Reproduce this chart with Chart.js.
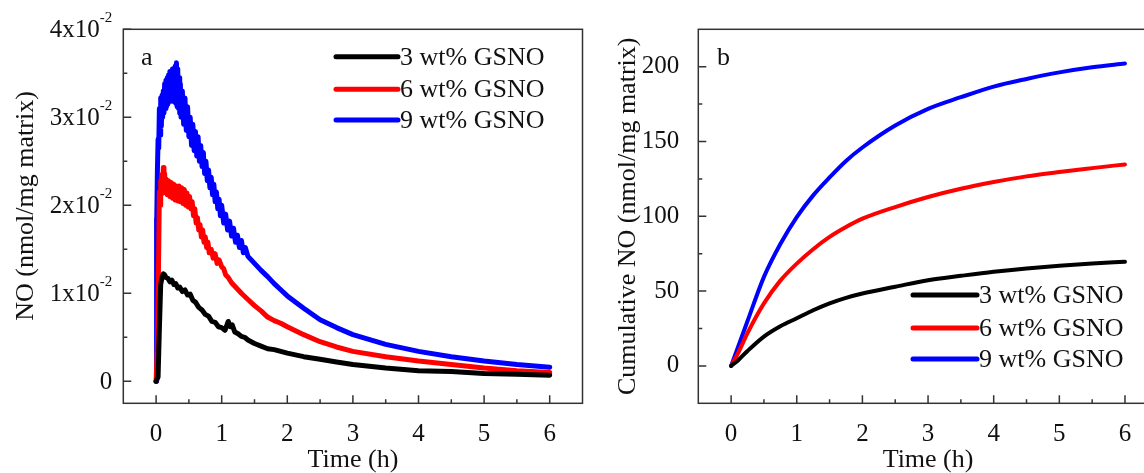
<!DOCTYPE html>
<html><head><meta charset="utf-8">
<script src="https://cdn.jsdelivr.net/npm/chart.js@4.4.0/dist/chart.umd.min.js"></script>
<style>
html,body{margin:0;padding:0;background:#fff;overflow:hidden;width:1144px;height:473px;}
#ca{position:absolute;left:0;top:0;}
#cb{position:absolute;left:590px;top:0;}
</style></head><body>
<canvas id="ca" width="590" height="473"></canvas>
<canvas id="cb" width="600" height="473"></canvas>
<script>
const seriesLabels = ['3 wt% GSNO', '6 wt% GSNO', '9 wt% GSNO'];
const seriesColors = ['#000000', '#ff0000', '#0000ff'];
const xTitle = 'Time (h)';
const yTitleA = 'NO (nmol/mg matrix)';
const yTitleB = 'Cumulative NO (nmol/mg matrix)';
const xTicks = [0, 1, 2, 3, 4, 5, 6];
const xMinorTicks = [0.5, 1.5, 2.5, 3.5, 4.5, 5.5];
const yTicksA = [0, 0.01, 0.02, 0.03, 0.04];
const yTickLabelsA = ['0', '1x10', '2x10', '3x10', '4x10'];
const yTickSupA = ['', '-2', '-2', '-2', '-2'];
const yMinorA = [0.005, 0.015, 0.025, 0.035];
const yTicksB = [0, 50, 100, 150, 200];
const yMinorB = [25, 75, 125, 175];

// Panel a: NO release rate
const tBlackA = [0,0.03,0.05,0.07,0.09,0.11,0.13,0.15,0.18,0.21,0.24,0.27,0.30,0.33,0.36,0.40,0.44,0.48,0.52,0.56,0.60,0.65,0.70,0.75,0.80,0.85,0.90,0.95,1.00,1.05,1.10,1.13,1.16,1.20,1.25,1.30,1.35,1.40,1.50,1.60,1.70,1.80,2.00,2.25,2.50,2.75,3.00,3.50,4.00,4.50,5.00,5.50,6.00];
const vBlackA = [0,0.0005,0.0060,0.0110,0.0118,0.0122,0.0121,0.0118,0.0117,0.0113,0.0115,0.0110,0.0111,0.0106,0.0107,0.0102,0.0104,0.0098,0.0099,0.0092,0.0090,0.0084,0.0081,0.0076,0.0074,0.0068,0.0067,0.0062,0.0061,0.0058,0.0068,0.0062,0.0064,0.0056,0.0054,0.0051,0.0050,0.0047,0.0043,0.0040,0.0037,0.0036,0.0032,0.0028,0.0025,0.0022,0.0019,0.0015,0.0012,0.0011,0.0009,0.0008,0.0007];
const tRedA = [0,0.02,0.04,0.05,0.06,0.07,0.08,0.09,0.10,0.11,0.12,0.13,0.14,0.15,0.17,0.19,0.21,0.23,0.25,0.27,0.29,0.31,0.33,0.35,0.37,0.39,0.41,0.43,0.45,0.47,0.49,0.51,0.53,0.55,0.57,0.59,0.61,0.63,0.65,0.67,0.69,0.71,0.73,0.75,0.77,0.79,0.81,0.84,0.87,0.90,0.93,0.96,1.00,1.03,1.06,1.10,1.15,1.20,1.30,1.40,1.50,1.60,1.70,1.80,1.90,2.00,2.25,2.50,2.75,3.00,3.50,4.00,4.50,5.00,5.50,6.00];
const vRedA = [0,0.0040,0.0150,0.0215,0.0200,0.0228,0.0212,0.0235,0.0218,0.0243,0.0220,0.0236,0.0214,0.0230,0.0212,0.0228,0.0210,0.0226,0.0208,0.0224,0.0206,0.0222,0.0205,0.0222,0.0204,0.0220,0.0202,0.0218,0.0200,0.0214,0.0198,0.0210,0.0196,0.0204,0.0188,0.0196,0.0180,0.0186,0.0172,0.0178,0.0164,0.0172,0.0158,0.0164,0.0152,0.0158,0.0146,0.0150,0.0140,0.0145,0.0134,0.0138,0.0130,0.0128,0.0121,0.0118,0.0112,0.0108,0.0100,0.0093,0.0086,0.0080,0.0073,0.0069,0.0066,0.0062,0.0053,0.0045,0.0039,0.0034,0.0028,0.0023,0.0019,0.0015,0.0012,0.0010];
const tBlueA = [0,0.005,0.01,0.02,0.03,0.04,0.05,0.06,0.07,0.08,0.09,0.10,0.11,0.12,0.13,0.14,0.15,0.16,0.17,0.18,0.19,0.20,0.21,0.22,0.23,0.24,0.25,0.26,0.27,0.28,0.29,0.30,0.31,0.32,0.33,0.34,0.35,0.36,0.37,0.38,0.40,0.42,0.44,0.46,0.48,0.50,0.52,0.54,0.56,0.58,0.60,0.62,0.64,0.66,0.68,0.70,0.72,0.74,0.76,0.78,0.80,0.82,0.84,0.86,0.88,0.90,0.92,0.94,0.96,0.98,1.00,1.03,1.06,1.09,1.12,1.15,1.18,1.21,1.24,1.27,1.30,1.33,1.36,1.40,1.45,1.50,1.60,1.70,1.80,1.90,2.00,2.25,2.50,2.75,3.00,3.50,4.00,4.50,5.00,5.50,6.00];
const vBlueA = [0,0.0185,0.0170,0.0240,0.0275,0.0265,0.0310,0.0280,0.0322,0.0290,0.0325,0.0300,0.0330,0.0305,0.0338,0.0310,0.0342,0.0312,0.0345,0.0315,0.0348,0.0318,0.0352,0.0320,0.0350,0.0322,0.0355,0.0318,0.0352,0.0320,0.0358,0.0316,0.0362,0.0312,0.0355,0.0310,0.0345,0.0305,0.0338,0.0300,0.0330,0.0292,0.0322,0.0285,0.0312,0.0278,0.0300,0.0268,0.0292,0.0262,0.0284,0.0256,0.0278,0.0250,0.0268,0.0244,0.0260,0.0236,0.0250,0.0228,0.0240,0.0220,0.0232,0.0212,0.0224,0.0204,0.0215,0.0196,0.0207,0.0188,0.0200,0.0180,0.0190,0.0172,0.0182,0.0165,0.0174,0.0158,0.0166,0.0152,0.0160,0.0146,0.0152,0.0142,0.0138,0.0134,0.0126,0.0119,0.0111,0.0104,0.0097,0.0083,0.0070,0.0061,0.0053,0.0042,0.0034,0.0028,0.0023,0.0019,0.0016];

// Panel b: cumulative NO
const tB = [0,0.1,0.25,0.5,0.75,1,1.25,1.5,1.75,2,2.5,3,3.5,4,4.5,5,5.5,6];
const vBlackB = [0,3.5,10,19.6,26.5,31.8,37.2,41.8,45.5,48.4,52.9,57.3,60.2,62.9,65.1,66.9,68.4,69.6];
const vRedB = [0,8,22,41.8,57,68.4,78,86.2,92.8,98.4,106.2,112.9,118.4,122.9,126.7,129.6,132.2,134.7];
const vBlueB = [0,12,30,59.5,81.5,99.5,114,126,137,146,160.7,171.8,179.6,186.7,191.8,196.2,199.6,202.2];

const SERIF = '"Liberation Serif", "Times New Roman", serif';
const TXT = '#111';
function pts(ts, vs) { return ts.map((t, i) => ({x: t, y: vs[i]})); }

function decor(cfg) {
  return {
    id: 'decor',
    afterDatasetsDraw(chart) {
      const ctx = chart.ctx, a = chart.chartArea;
      const xs = chart.scales.x, ys = chart.scales.y;
      ctx.save();
      ctx.strokeStyle = '#333';
      ctx.lineWidth = 1.5;
      ctx.strokeRect(a.left, a.top, a.right - a.left, a.bottom - a.top);
      ctx.beginPath();
      xTicks.forEach(v => { const p = xs.getPixelForValue(v); ctx.moveTo(p, a.bottom); ctx.lineTo(p, a.bottom - 8); });
      xMinorTicks.forEach(v => { const p = xs.getPixelForValue(v); ctx.moveTo(p, a.bottom); ctx.lineTo(p, a.bottom - 4); });
      cfg.yMajor.forEach(v => { const p = ys.getPixelForValue(v); ctx.moveTo(a.left, p); ctx.lineTo(a.left + 8, p); });
      cfg.yMinor.forEach(v => { const p = ys.getPixelForValue(v); ctx.moveTo(a.left, p); ctx.lineTo(a.left + 4, p); });
      ctx.stroke();
      // custom y labels with superscripts
      if (cfg.supLabels) {
        cfg.yMajor.forEach((v, i) => {
          const p = ys.getPixelForValue(v);
          const right = a.left - 11;
          ctx.fillStyle = TXT;
          ctx.textBaseline = 'middle';
          ctx.font = '15px ' + SERIF;
          const sup = yTickSupA[i];
          const sw = sup ? ctx.measureText(sup).width : 0;
          if (sup) { ctx.textAlign = 'left'; ctx.fillText(sup, right - sw, p - 11); }
          ctx.font = '25px ' + SERIF;
          ctx.textAlign = 'right';
          ctx.fillText(yTickLabelsA[i], right - sw, p + 1);
        });
      }
      // custom y title
      if (cfg.yTitle) {
        ctx.save();
        ctx.translate(cfg.yTitleX, cfg.yTitleY);
        ctx.rotate(-Math.PI / 2);
        ctx.font = '26px ' + SERIF;
        ctx.fillStyle = TXT;
        ctx.textAlign = 'center'; ctx.textBaseline = 'middle';
        ctx.fillText(cfg.yTitle, 0, 0);
        ctx.restore();
      }
      // legend
      chart.data.datasets.forEach((ds, i) => {
        const y = cfg.legY[i];
        ctx.strokeStyle = ds.borderColor;
        ctx.lineWidth = 5;
        ctx.lineCap = 'round';
        ctx.beginPath(); ctx.moveTo(cfg.legX1, y); ctx.lineTo(cfg.legX2, y); ctx.stroke();
        ctx.fillStyle = TXT;
        ctx.font = '26px ' + SERIF;
        ctx.textAlign = 'left'; ctx.textBaseline = 'middle';
        ctx.fillText(ds.label, cfg.legX2 + 2, y + 1);
      });
      // panel letter
      ctx.font = '26px ' + SERIF;
      ctx.textAlign = 'left'; ctx.textBaseline = 'alphabetic';
      ctx.fillStyle = TXT;
      ctx.fillText(cfg.letter, cfg.letterX, cfg.letterY);
      ctx.restore();
    }
  };
}

function makeChart(id, datasets, opt) {
  return new Chart(document.getElementById(id), {
    type: 'line',
    data: { datasets },
    options: {
      responsive: false, animation: false, devicePixelRatio: 1,
      layout: { padding: { left: 0, right: opt.padRight, top: 29.3, bottom: 0 } },
      plugins: { legend: { display: false }, tooltip: { enabled: false } },
      elements: { point: { radius: 0 } },
      scales: {
        x: {
          type: 'linear', min: -0.5, max: 6.5,
          afterBuildTicks: s => { s.ticks = xTicks.map(v => ({ value: v })); },
          afterFit: s => { s.height = 69.7; },
          grid: { display: false }, border: { display: false },
          ticks: { font: { family: SERIF, size: 25 }, color: TXT, padding: 8, maxRotation: 0, callback: v => String(v) },
          title: { display: true, text: xTitle, color: TXT, font: { family: SERIF, size: 26, lineHeight: 1 }, padding: { top: 0, bottom: 0 } }
        },
        y: {
          type: 'linear', min: opt.yMin, max: opt.yMax,
          afterBuildTicks: s => { s.ticks = opt.yTicks.map(v => ({ value: v })); },
          afterFit: s => { s.width = opt.yWidth; },
          grid: { display: false }, border: { display: false },
          ticks: { display: opt.yTickDisplay, font: { family: SERIF, size: 25 }, color: TXT, padding: 11, callback: v => String(v) },
          title: { display: opt.yTitleBuiltIn, text: opt.yTitle, color: TXT, font: { family: SERIF, size: 26, lineHeight: 1 }, padding: { top: opt.yTitlePad, bottom: 0 } }
        }
      }
    },
    plugins: [decor(opt.decor)]
  });
}

function ds(i, data, w, tension) {
  return { label: seriesLabels[i], data, borderColor: seriesColors[i], backgroundColor: seriesColors[i],
           borderWidth: w, tension, cubicInterpolationMode: tension ? 'monotone' : 'default',
           borderJoinStyle: 'round', borderCapStyle: 'round', fill: false };
}

makeChart('ca', [
  ds(0, pts(tBlackA, vBlackA), 5, 0),
  ds(1, pts(tRedA, vRedA), 5, 0),
  ds(2, pts(tBlueA, vBlueA), 5, 0)
], {
  padRight: 7.5, yMin: -0.0025, yMax: 0.04, yTicks: yTicksA, yWidth: 123.3, yTickDisplay: false,
  yTitle: yTitleA, yTitlePad: 13, yTitleBuiltIn: false,
  decor: { yMajor: yTicksA, yMinor: yMinorA, supLabels: true, yTitle: yTitleA, yTitleX: 26, yTitleY: 206,
           legX1: 336, legX2: 398, legY: [56.7, 89.3, 120], letter: 'a', letterX: 141, letterY: 65 }
});

makeChart('cb', [
  ds(0, pts(tB, vBlackB), 4, 0.4),
  ds(1, pts(tB, vRedB), 4, 0.4),
  ds(2, pts(tB, vBlueB), 4, 0.4)
], {
  padRight: 32.2, yMin: -25, yMax: 225, yTicks: yTicksB, yWidth: 108.3, yTickDisplay: true,
  yTitle: yTitleB, yTitlePad: 25.5, yTitleBuiltIn: true,
  decor: { yMajor: yTicksB, yMinor: yMinorB, supLabels: false,
           legX1: 913 - 590, legX2: 977 - 590, legY: [295, 328, 359], letter: 'b', letterX: 717 - 590, letterY: 65 }
});
</script>
</body></html>
